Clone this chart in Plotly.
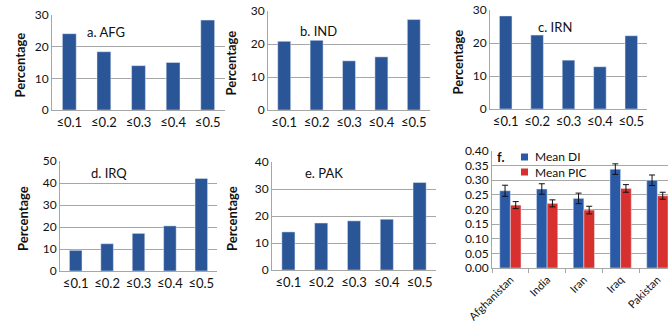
import plotly.graph_objects as go

W, H = 668, 327

categories = ["≤0.1", "≤0.2", "≤0.3", "≤0.4", "≤0.5"]
afg = [24.1, 18.4, 14.0, 15.0, 28.4]
ind = [20.8, 21.1, 14.9, 16.1, 27.4]
irn = [28.2, 22.4, 14.8, 12.8, 22.2]
irq = [9.4, 12.4, 17.1, 20.5, 42.1]
pak = [14.1, 17.4, 18.2, 18.8, 32.4]

countries = ["Afghanistan", "India", "Iran", "Iraq", "Pakistan"]
mean_di = [0.264, 0.270, 0.238, 0.338, 0.300]
mean_di_err = [0.019, 0.018, 0.018, 0.018, 0.018]
mean_pic = [0.215, 0.221, 0.198, 0.272, 0.247]
mean_pic_err = [0.012, 0.012, 0.013, 0.013, 0.012]

BLUE = "#2a5597"
BLUE_F = "#2a5aa6"
RED = "#d8302e"
GRID = "#a6a6a6"
FONT = "Lato"
TXT = "#111"


def px(x):
    return x / W


def py(y):
    return 1 - y / H


fig = go.Figure()

# panel definitions: (data, label, x0, x1, ytop, ybottom, ymax, label_x, label_y, ytitle_x)
panels = [
    (afg, "a. AFG", 52, 225, 15, 110, 30, 106, 32, 20),
    (ind, "b. IND", 268, 430, 11, 110, 30, 318, 31, 230),
    (irn, "c. IRN", 490, 647, 10, 109, 30, 555, 27, 457),
    (irq, "d. IRQ", 60, 217, 161, 271, 50, 109, 173, 23),
    (pak, "e. PAK", 272, 436, 162, 270, 40, 324, 173, 232),
]

annotations = []
for i, (vals, lab, x0, x1, yt, yb, ymax, lx, ly, tx) in enumerate(panels):
    n = i + 1
    xa = "x" if n == 1 else f"x{n}"
    ya = "y" if n == 1 else f"y{n}"
    fig.add_trace(go.Bar(x=categories, y=vals, marker_color=BLUE, width=0.4,
                         xaxis=xa, yaxis=ya, showlegend=False))
    xk = "xaxis" if n == 1 else f"xaxis{n}"
    yk = "yaxis" if n == 1 else f"yaxis{n}"
    fig.layout[xk] = dict(domain=[px(x0), px(x1)], anchor=ya, showgrid=False,
                          showline=True, linecolor=GRID, linewidth=1, ticks="",
                          automargin=False,
                          tickfont=dict(family=FONT, size=13, color=TXT),
                          fixedrange=True)
    fig.layout[yk] = dict(domain=[py(yb), py(yt)], anchor=xa, range=[0, ymax],
                          dtick=10, showgrid=True, gridcolor=GRID, gridwidth=1,
                          showline=True, linecolor=GRID, linewidth=1, ticks="",
                          zeroline=False, automargin=False,
                          tickfont=dict(family=FONT, size=12, color=TXT),
                          fixedrange=True)
    annotations.append(dict(x=px(lx), y=py(ly), xref="paper", yref="paper",
                            text=lab, showarrow=False, xanchor="center", yanchor="middle",
                            font=dict(family=FONT, size=13, color=TXT)))
    annotations.append(dict(x=px(tx), y=py((yt + yb) / 2 + 3), xref="paper", yref="paper",
                            text="<b>Percentage</b>", textangle=-90, showarrow=False,
                            xanchor="center", yanchor="middle",
                            font=dict(family=FONT, size=13, color=TXT)))

# panel f
fig.add_trace(go.Bar(x=countries, y=mean_di, name="Mean DI", marker_color=BLUE_F,
                     width=0.29, offset=-0.29,
                     error_y=dict(type="data", array=mean_di_err, color="#111",
                                  thickness=1, width=3),
                     xaxis="x6", yaxis="y6", showlegend=False))
fig.add_trace(go.Bar(x=countries, y=mean_pic, name="Mean PIC", marker_color=RED,
                     width=0.29, offset=0.0,
                     error_y=dict(type="data", array=mean_pic_err, color="#111",
                                  thickness=1, width=3),
                     xaxis="x6", yaxis="y6", showlegend=False))
fx0, fx1 = 492, 668
cat_w = 36.75
fig.layout["xaxis6"] = dict(domain=[px(fx0), 1.0], anchor="y6",
                            range=[-0.5, -0.5 + (fx1 - fx0) / cat_w],
                            showgrid=False, showline=True, linecolor=GRID, linewidth=1,
                            ticks="outside", tickson="boundaries", ticklen=4,
                            tickcolor=GRID, tickangle=-45, automargin=False,
                            tickfont=dict(family=FONT, size=11, color=TXT),
                            fixedrange=True)
fig.layout["yaxis6"] = dict(domain=[py(268), py(151)], anchor="x6", range=[0, 0.40],
                            dtick=0.05, tickformat=".2f", showgrid=True, gridcolor=GRID,
                            showline=True, linecolor=GRID, linewidth=1, ticks="",
                            zeroline=False, automargin=False,
                            tickfont=dict(family=FONT, size=12, color=TXT),
                            fixedrange=True)

annotations.append(dict(x=px(500), y=py(157), xref="paper", yref="paper", text="<b>f.</b>",
                        showarrow=False, xanchor="center", yanchor="middle",
                        font=dict(family=FONT, size=13, color=TXT)))
shapes = []
for col, name, yy in [(BLUE_F, "Mean DI", 157), (RED, "Mean PIC", 172)]:
    shapes.append(dict(type="rect", xref="paper", yref="paper",
                       x0=px(521), x1=px(528), y0=py(yy + 3.5), y1=py(yy - 3.5),
                       fillcolor=col, line=dict(width=0)))
    annotations.append(dict(x=px(533), y=py(yy), xref="paper", yref="paper", text=name,
                            showarrow=False, xanchor="left", yanchor="middle",
                            font=dict(family=FONT, size=12, color=TXT)))

fig.update_layout(width=W, height=H, margin=dict(l=0, r=0, t=0, b=0, autoexpand=False),
                  paper_bgcolor="white", plot_bgcolor="white",
                  barmode="overlay", annotations=annotations, shapes=shapes,
                  hovermode=False, font=dict(family=FONT))

fig.write_html("out.html", config={"displayModeBar": False, "staticPlot": True},
               post_script="document.body.style.margin='0';document.body.style.overflow='hidden';")
